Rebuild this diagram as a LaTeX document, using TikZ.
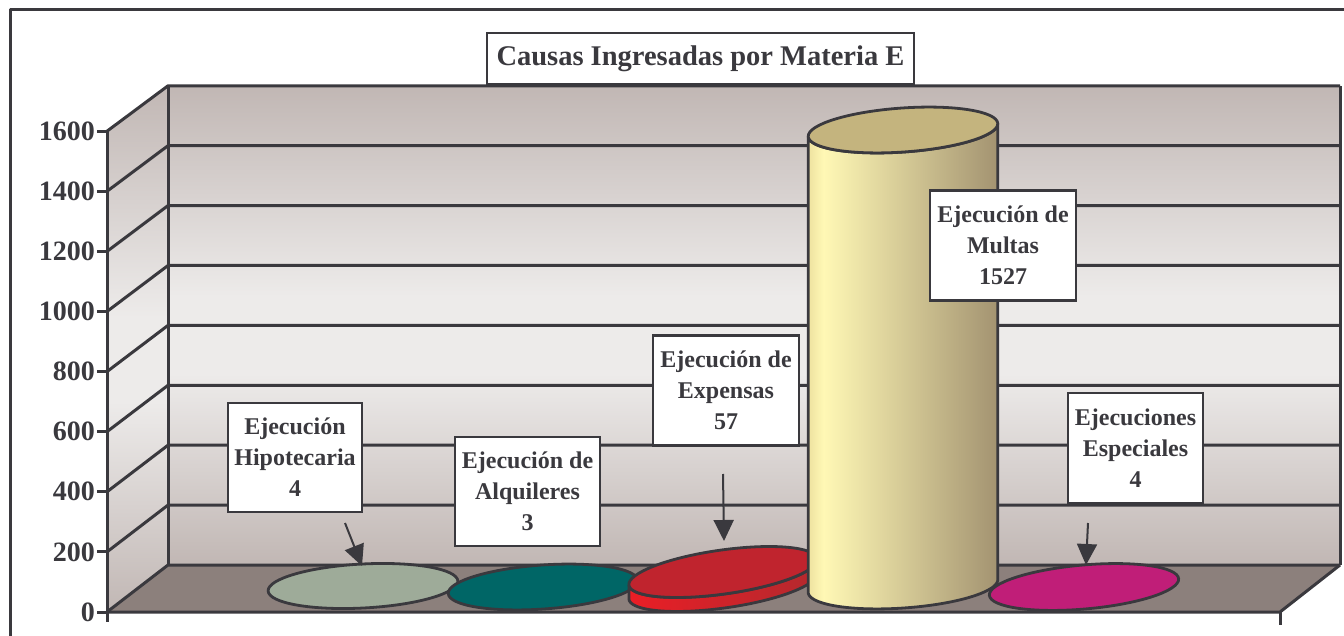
\documentclass[tikz,border=0pt]{standalone}
\usepackage{fontspec}
\setmainfont{Liberation Serif}
\usepackage{tikz}
\usetikzlibrary{arrows.meta}

\definecolor{ink}{HTML}{3A393E}
\definecolor{wallA}{HTML}{C1B7B4}
\definecolor{wallB}{HTML}{EDEBEA}
\definecolor{floorc}{HTML}{8C807C}
\definecolor{hipc}{HTML}{9EAB99}
\definecolor{alqc}{HTML}{006666}
\definecolor{espc}{HTML}{C01E78}
\definecolor{redtop}{HTML}{C0242E}
\definecolor{redL}{HTML}{EA1E26}
\definecolor{redR}{HTML}{B3292E}
\definecolor{multop}{HTML}{C4B47E}
\definecolor{mulL}{HTML}{EEE2A0}
\definecolor{mulH}{HTML}{FFF8B5}
\definecolor{mulR}{HTML}{A39371}

\pgfdeclareverticalshading{wallshade}{100bp}{color(0bp)=(wallA); color(25bp)=(wallA);
  color(45bp)=(wallB); color(53bp)=(wallB); color(75bp)=(wallA); color(100bp)=(wallA)}
\pgfdeclarehorizontalshading{multashade}{100bp}{color(0bp)=(mulL); color(25bp)=(mulL);
  color(29bp)=(mulH); color(75bp)=(mulR); color(100bp)=(mulR)}

% cylinder: cx, ytop, ybottom, tilt, side style, top colour
\newcommand{\drawcyl}[6]{%
  \path[draw=ink, line width=2.8pt, line join=round, #5]
    plot[domain=180:360, samples=60, variable=\t]
      ({#1+95*cos(\t)*cos(#4)-22*sin(\t)*sin(#4)}, {#3-95*cos(\t)*sin(#4)-22*sin(\t)*cos(#4)})
    -- plot[domain=360:180, samples=60, variable=\t]
      ({#1+95*cos(\t)*cos(#4)-22*sin(\t)*sin(#4)}, {#2-95*cos(\t)*sin(#4)-22*sin(\t)*cos(#4)})
    -- cycle;
  \filldraw[draw=ink, line width=2.8pt, fill=#6, shift={(#1,#2)}, rotate=#4]
    (0,0) ellipse [x radius=95pt, y radius=22pt];
}

\begin{document}
\begin{tikzpicture}[x=1pt,y=-1pt
	,grid/.style={draw=ink, line width=3pt, line join=round}
	,disc/.style={draw=ink, line width=2.8pt}
	,lbl/.style={draw=ink, line width=2.8pt, fill=white, text=ink, align=center,
	  font=\fontsize{24}{31}\selectfont\bfseries, inner sep=0pt}
	,ylab/.style={text=ink, font=\fontsize{28}{28}\selectfont\bfseries, inner sep=0pt}
	,ptr/.style={draw=ink, line width=2pt, -{Triangle[length=21pt,width=20pt]}}]
  \useasboundingbox (0,0) rectangle (1344,636);

  % frame
  \draw[grid] (10,640) -- (10,10) -- (1350,10);

  % walls and floor
  \path[shading=wallshade] (168,86) rectangle (1340,565);
  \path[shading=wallshade] (107,612) -- (107,131) -- (168,86) -- (168,565) -- cycle;
  \fill[floorc] (107,612) -- (1280,612) -- (1340,565) -- (168,565) -- cycle;

  % grid and value axis
  \foreach \k in {0,...,8}{
    \pgfmathsetmacro\yy{612-60.1*\k}
    \pgfmathsetmacro\yb{565-59.9*\k}
    \pgfmathtruncatemacro\vv{200*\k}
    \draw[grid] (107,\yy) -- (168,\yb) -- (1340,\yb);
    \draw[grid] (97,\yy) -- (107,\yy);
    \node[ylab, anchor=east] (y\k) at (95,\yy) {\vv};
  }
  \draw[grid] (168,86) -- (168,565);
  \draw[grid] (1340,86) -- (1340,565);
  \draw[grid] (107,131) -- (107,622);
  \draw[grid] (107,612) -- (1280,612) -- (1340,565);
  \draw[grid] (1280,612) -- (1280,625);

  % bars
  \filldraw[disc, fill=hipc, shift={(363,586)}, rotate=3] (0,0) ellipse [x radius=95pt, y radius=22pt];
  \filldraw[disc, fill=alqc, shift={(543,587)}, rotate=4] (0,0) ellipse [x radius=95pt, y radius=22pt];
  \drawcyl{723}{572}{586}{8}{left color=redL, right color=redR}{redtop}
  \drawcyl{903}{130}{586}{4}{shading=multashade}{multop}
  \filldraw[disc, fill=espc, shift={(1084,587)}, rotate=5] (0,0) ellipse [x radius=95pt, y radius=22pt];

  % title and labels
  \node[lbl, font=\fontsize{28.5}{28.5}\selectfont\bfseries, minimum width=427pt, minimum height=51pt]
    (title) at (700.5,58.5) {Causas Ingresadas por Materia E};
  \node[lbl, minimum width=134pt, minimum height=109pt] (lhip) at (295,457.5)
    {Ejecución\\Hipotecaria\\4};
  \node[lbl, minimum width=145pt, minimum height=109pt] (lalq) at (527.5,491.5)
    {Ejecución de\\Alquileres\\3};
  \node[lbl, minimum width=146pt, minimum height=110pt] (lexp) at (726,390.5)
    {Ejecución de\\Expensas\\57};
  \node[lbl, minimum width=146pt, minimum height=110pt] (lmul) at (1003,245.5)
    {Ejecución de\\Multas\\1527};
  \node[lbl, minimum width=135pt, minimum height=110pt] (lesp) at (1135.5,448)
    {Ejecuciones\\Especiales\\4};

  % pointers
  \coordinate (hipfrom) at (345,523);
  \coordinate (hipto) at (362,566);
  \coordinate (expfrom) at (723,474);
  \coordinate (expto) at (724,541);
  \coordinate (espfrom) at (1088,523);
  \coordinate (espto) at (1086,565);
  \draw[ptr] (hipfrom) -- (hipto);
  \draw[ptr] (expfrom) -- (expto);
  \draw[ptr] (espfrom) -- (espto);
\end{tikzpicture}
\end{document}
